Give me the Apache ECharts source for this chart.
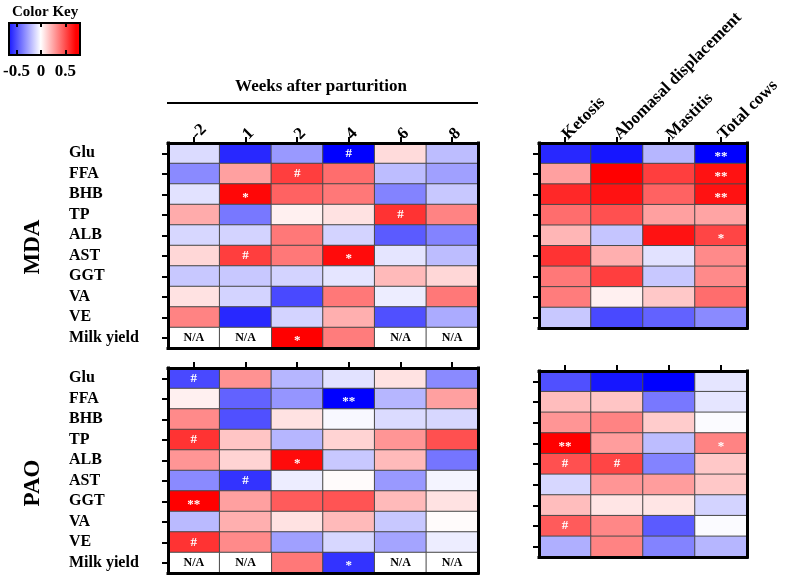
<!DOCTYPE html>
<html>
<head>
<meta charset="utf-8">
<script src="https://cdn.jsdelivr.net/npm/echarts@6/dist/echarts.min.js"></script>
<style>html,body{margin:0;padding:0;background:#fff}#chart{width:787px;height:579px}</style>
</head>
<body>
<div id="chart"></div>
<script>
// ---------- data ----------
const weeks = ['-2', '1', '2', '4', '6', '8'];
const diseases = ['Ketosis', 'Abomasal displacement', 'Mastitis', 'Total cows'];
const weekIndicators = ['Glu', 'FFA', 'BHB', 'TP', 'ALB', 'AST', 'GGT', 'VA', 'VE', 'Milk yield'];
const diseaseIndicators = ['Glu', 'FFA', 'BHB', 'TP', 'ALB', 'AST', 'GGT', 'VA', 'VE'];
const keyTicks = [-0.5, 0, 0.5];

const mdaWeekValues = [
  [-0.10, -0.59, -0.28, -0.70,  0.10, -0.18],
  [-0.32,  0.26,  0.53,  0.40, -0.18, -0.26],
  [-0.08,  0.68,  0.43,  0.37, -0.34, -0.15],
  [ 0.23, -0.37,  0.04,  0.08,  0.56,  0.34],
  [-0.11, -0.12,  0.37, -0.12, -0.45, -0.34],
  [ 0.11,  0.53,  0.37,  0.67, -0.07, -0.18],
  [-0.15, -0.15, -0.12, -0.07,  0.19,  0.11],
  [ 0.08, -0.12, -0.50,  0.37, -0.05,  0.37],
  [ 0.34, -0.59, -0.12,  0.22, -0.48, -0.23],
  [ null,  null,  0.70,  0.36,  null,  null]
];
const mdaWeekMarks = [
  ['', '', '', '#', '', ''],
  ['', '', '#', '', '', ''],
  ['', '*', '', '', '', ''],
  ['', '', '', '', '#', ''],
  ['', '', '', '', '', ''],
  ['', '#', '', '*', '', ''],
  ['', '', '', '', '', ''],
  ['', '', '', '', '', ''],
  ['', '', '', '', '', ''],
  ['', '', '*', '', '', '']
];
const mdaDiseaseValues = [
  [-0.59, -0.64, -0.20, -0.70],
  [ 0.26,  0.70,  0.53,  0.65],
  [ 0.59,  0.65,  0.43,  0.65],
  [ 0.40,  0.48,  0.26,  0.25],
  [ 0.20, -0.16,  0.65,  0.51],
  [ 0.56,  0.22, -0.08,  0.32],
  [ 0.37,  0.53, -0.15,  0.32],
  [ 0.36,  0.04,  0.15,  0.40],
  [-0.15, -0.50, -0.43, -0.32]
];
const mdaDiseaseMarks = [
  ['', '', '', '**'],
  ['', '', '', '**'],
  ['', '', '', '**'],
  ['', '', '', ''],
  ['', '', '', '*'],
  ['', '', '', ''],
  ['', '', '', ''],
  ['', '', '', ''],
  ['', '', '', '']
];
const paoWeekValues = [
  [-0.50,  0.30, -0.20, -0.08,  0.08, -0.32],
  [ 0.04, -0.43, -0.29, -0.70, -0.20,  0.26],
  [ 0.32, -0.48,  0.08, -0.02, -0.10, -0.11],
  [ 0.56,  0.16, -0.20,  0.12,  0.29,  0.48],
  [ 0.29,  0.12,  0.67, -0.15,  0.19, -0.38],
  [-0.32, -0.56, -0.05,  0.01, -0.28, -0.03],
  [ 0.70,  0.26,  0.45,  0.47,  0.19,  0.08],
  [-0.19,  0.22,  0.08,  0.19, -0.15,  0.01],
  [ 0.56,  0.32, -0.26, -0.11, -0.25, -0.05],
  [ null,  null,  0.37, -0.56,  null,  null]
];
const paoWeekMarks = [
  ['#', '', '', '', '', ''],
  ['', '', '', '**', '', ''],
  ['', '', '', '', '', ''],
  ['#', '', '', '', '', ''],
  ['', '', '*', '', '', ''],
  ['', '#', '', '', '', ''],
  ['**', '', '', '', '', ''],
  ['', '', '', '', '', ''],
  ['#', '', '', '', '', ''],
  ['', '', '', '*', '', '']
];
const paoDiseaseValues = [
  [-0.48, -0.64, -0.70, -0.07],
  [ 0.18,  0.16, -0.37, -0.07],
  [ 0.29,  0.34,  0.14, -0.01],
  [ 0.70,  0.27, -0.18,  0.34],
  [ 0.48,  0.51, -0.34,  0.15],
  [-0.11,  0.29,  0.27,  0.15],
  [ 0.18,  0.07,  0.07, -0.12],
  [ 0.45,  0.33, -0.45, -0.01],
  [-0.22,  0.34, -0.34, -0.20]
];
const paoDiseaseMarks = [
  ['', '', '', ''],
  ['', '', '', ''],
  ['', '', '', ''],
  ['**', '', '', '*'],
  ['#', '#', '', ''],
  ['', '', '', ''],
  ['', '', '', ''],
  ['#', '', '', ''],
  ['', '', '', '']
];

// ---------- chart ----------
const FONT = '"Liberation Serif", "Times New Roman", serif';
const chart = echarts.init(document.getElementById('chart'), null, {renderer: 'canvas'});

const panels = [
  {grid: {left: 168, top: 143, width: 310, height: 205}, cols: weeks, rows: weekIndicators, values: mdaWeekValues, marks: mdaWeekMarks, colLabels: true, rowLabels: true},
  {grid: {left: 539, top: 143, width: 208, height: 185}, cols: diseases, rows: diseaseIndicators, values: mdaDiseaseValues, marks: mdaDiseaseMarks, colLabels: true, rowLabels: false},
  {grid: {left: 168, top: 368, width: 310, height: 205}, cols: weeks, rows: weekIndicators, values: paoWeekValues, marks: paoWeekMarks, colLabels: false, rowLabels: true},
  {grid: {left: 539, top: 371, width: 208, height: 186}, cols: diseases, rows: diseaseIndicators, values: paoDiseaseValues, marks: paoDiseaseMarks, colLabels: false, rowLabels: false}
];

const grids = [], xAxes = [], yAxes = [], series = [];
const frameLine = {show: true, lineStyle: {color: '#000', width: 3, cap: 'square'}};
const tickStyle = {color: '#000', width: 2};

panels.forEach((p, gi) => {
  grids.push(Object.assign({containLabel: false}, p.grid));
  const xTop = xAxes.length;
  xAxes.push({
    type: 'category', gridIndex: gi, data: p.cols, position: 'top', z: 10,
    axisLine: frameLine,
    axisTick: {show: true, alignWithLabel: true, length: 6, lineStyle: tickStyle},
    axisLabel: {show: p.colLabels, interval: 0, rotate: -45, align: 'left', verticalAlign: 'middle',
      margin: 6, color: '#000', fontFamily: FONT, fontWeight: 'bold', fontSize: 17},
    splitLine: {show: false}
  });
  xAxes.push({
    type: 'category', gridIndex: gi, data: p.cols, position: 'bottom', z: 10,
    axisLine: frameLine, axisTick: {show: false}, axisLabel: {show: false}, splitLine: {show: false}
  });
  const yLeft = yAxes.length;
  yAxes.push({
    type: 'category', gridIndex: gi, data: p.rows, inverse: true, position: 'left', z: 10,
    axisLine: frameLine,
    axisTick: {show: true, alignWithLabel: true, length: 6, lineStyle: tickStyle},
    axisLabel: {show: p.rowLabels, interval: 0, align: 'left', margin: 99, color: '#000',
      fontFamily: FONT, fontWeight: 'bold', fontSize: 16},
    splitLine: {show: false}
  });
  yAxes.push({
    type: 'category', gridIndex: gi, data: p.rows, inverse: true, position: 'right', z: 10,
    axisLine: frameLine, axisTick: {show: false}, axisLabel: {show: false}, splitLine: {show: false}
  });

  const data = [], naData = [];
  p.values.forEach((row, r) => {
    row.forEach((v, c) => {
      if (v === null) {
        naData.push({value: [c, r, 0]});
      } else {
        const m = p.marks[r][c];
        data.push({value: [c, r, v], mark: m,
          label: {offset: m.indexOf('*') >= 0 ? [0, 3] : [0, 0]}});
      }
    });
  });
  series.push({
    type: 'heatmap', xAxisIndex: xTop, yAxisIndex: yLeft, data: data,
    itemStyle: {borderColor: '#4a4a4a', borderWidth: 1},
    label: {show: true, color: '#fff', fontFamily: FONT, fontWeight: 'bold', fontSize: 13,
      formatter: prm => prm.data.mark},
    emphasis: {disabled: true}
  });
  if (naData.length) {
    series.push({
      type: 'heatmap', xAxisIndex: xTop, yAxisIndex: yLeft, data: naData,
      itemStyle: {color: '#ffffff', borderColor: '#4a4a4a', borderWidth: 1},
      label: {show: true, color: '#000', fontFamily: FONT, fontWeight: 'bold', fontSize: 12,
        formatter: () => 'N/A'},
      emphasis: {disabled: true}
    });
  }
});

const heatSeriesIdx = [];
series.forEach((s, i) => { if (s.data.length && s.data[0].mark !== undefined) heatSeriesIdx.push(i); });

// colour key grid
const keyGrid = grids.length;
grids.push({left: 9, top: 23, width: 71, height: 32});
xAxes.push({
  type: 'value', gridIndex: keyGrid, min: -0.65, max: 0.8, position: 'bottom', z: 10,
  axisLine: {show: false}, splitLine: {show: false},
  axisTick: {show: true, inside: true, length: 5, customValues: keyTicks, lineStyle: tickStyle},
  axisLabel: {show: true, customValues: keyTicks, margin: 8, color: '#000',
    fontFamily: FONT, fontWeight: 'bold', fontSize: 17}
});
xAxes.push({
  type: 'value', gridIndex: keyGrid, min: -0.65, max: 0.8, position: 'top', z: 10,
  axisLine: {show: false}, splitLine: {show: false},
  axisTick: {show: true, inside: true, length: 4, customValues: keyTicks, lineStyle: tickStyle},
  axisLabel: {show: false}
});
yAxes.push({type: 'value', gridIndex: keyGrid, min: 0, max: 1, show: false});

const option = {
  animation: false,
  backgroundColor: '#fff',
  grid: grids,
  xAxis: xAxes,
  yAxis: yAxes,
  visualMap: {
    type: 'continuous', show: false, min: -0.7, max: 0.7, seriesIndex: heatSeriesIdx,
    inRange: {color: ['#0000ff', '#ffffff', '#ff0000']}
  },
  series: series,
  graphic: [
    {type: 'rect', z: 5, shape: {x: 9, y: 23, width: 71, height: 32},
      style: {fill: new echarts.graphic.LinearGradient(0, 0, 1, 0, [
        {offset: 0, color: '#1212ff'}, {offset: 0.448, color: '#ffffff'},
        {offset: 0.931, color: '#ff0000'}, {offset: 1, color: '#ff0000'}]),
        stroke: '#000', lineWidth: 2}},
    {type: 'text', x: 12, y: 12, z: 5,
      style: {text: 'Color Key', fill: '#000', font: 'bold 15px ' + FONT, align: 'left', verticalAlign: 'middle'}},
    {type: 'text', x: 321, y: 87, z: 5,
      style: {text: 'Weeks after parturition', fill: '#000', font: 'bold 17px ' + FONT, align: 'center', verticalAlign: 'middle'}},
    {type: 'line', z: 5, shape: {x1: 167, y1: 103, x2: 478, y2: 103}, style: {stroke: '#000', lineWidth: 2}},
    {type: 'text', x: 33, y: 247, z: 5, rotation: Math.PI / 2,
      style: {text: 'MDA', fill: '#000', font: 'bold 23px ' + FONT, align: 'center', verticalAlign: 'middle'}},
    {type: 'text', x: 33, y: 483, z: 5, rotation: Math.PI / 2,
      style: {text: 'PAO', fill: '#000', font: 'bold 23px ' + FONT, align: 'center', verticalAlign: 'middle'}}
  ]
};
chart.setOption(option);
</script>
</body>
</html>
